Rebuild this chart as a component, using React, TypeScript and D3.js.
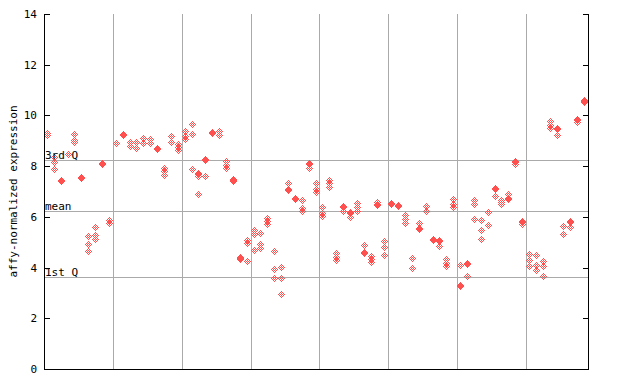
import React from "react";
import * as d3 from "d3";

// expression values per sample (replicates), 79 samples in 8 groups
const samples: number[][] = [
  [9.3, 9.2], [8.33, 8.15, 7.85], [7.45, 7.41], [8.44], [9.25, 9.0, 8.92],
  [7.56, 7.52], [5.22, 4.92, 4.65], [5.57, 5.25, 5.12], [8.1, 8.06], [5.85, 5.74],
  [8.89], [9.24, 9.2], [8.93, 8.77], [8.92, 8.7], [9.1, 8.9],
  [9.05, 8.9], [8.7, 8.66], [7.91, 7.78, 7.65], [9.16, 8.95], [8.87, 8.74, 8.6],
  [9.37, 9.16, 9.07], [9.65, 9.23, 7.87], [7.72, 7.68, 7.58, 6.89], [8.27, 8.23, 7.6], [9.33, 9.29],
  [9.35, 9.22], [8.17, 8.03, 7.9], [7.48, 7.44, 7.38], [4.41, 4.37, 4.3], [5.07, 4.93, 4.22],
  [5.45, 5.3, 4.69], [5.35, 4.9, 4.75], [5.95, 5.82, 5.68], [4.65, 3.94, 3.58], [4.02, 3.58, 2.95],
  [7.3, 7.07, 7.03], [6.72, 6.68], [6.65, 6.33, 6.2], [8.12, 8.08, 7.9], [7.3, 7.08, 6.95],
  [6.38, 6.14, 6.03], [7.45, 7.3, 7.17], [4.56, 4.4, 4.27], [6.42, 6.38, 6.2], [6.16, 6.12, 5.98],
  [6.53, 6.36, 6.2], [4.89, 4.6, 4.56], [4.43, 4.31, 4.19], [6.57, 6.47, 6.43], [5.02, 4.8, 4.48],
  [6.52, 6.48], [6.45, 6.41], [6.07, 5.9, 5.75], [4.37, 3.97], [5.75, 5.53, 5.49],
  [6.4, 6.2], [5.09, 5.05], [5.08, 5.04, 4.82], [4.3, 4.17, 4.03], [6.69, 6.5, 6.38],
  [4.09, 3.3, 3.26], [4.16, 4.12, 3.66], [6.64, 6.5, 5.9], [5.86, 5.48, 5.09], [6.18, 5.67],
  [7.12, 7.08, 6.8], [6.66, 6.55, 6.5], [6.9, 6.71, 6.67], [8.17, 8.13, 8.07], [5.8, 5.76, 5.68],
  [4.5, 4.28, 4.06], [4.46, 4.1, 3.89], [4.22, 4.04, 3.65], [9.75, 9.6, 9.48], [9.47, 9.43, 9.21],
  [5.61, 5.31], [5.83, 5.79, 5.6], [9.84, 9.8, 9.72], [10.6, 10.56, 10.5],
];

const groupBoundaries = [9.5, 19.5, 29.5, 39.5, 49.5, 59.5, 69.5];
const yTicks = [0, 2, 4, 6, 8, 10, 12, 14];
const statLabels = ["3rd Q", "mean", "1st Q"];
const statValues = [8.23, 6.22, 3.62];

const W = 640, H = 384;
const left = 44, right = 588, top = 14, bottom = 369;
const RED = "#ff5050";
const GRID = "#aaaaaa";
const FONT = "'DejaVu Sans Mono', monospace";

// checker-diamond pixel offsets
const diamondPixels: [number, number][] = [];
for (let dy = -3; dy <= 3; dy++) {
  for (let dx = -3; dx <= 3; dx++) {
    const s = Math.abs(dx) + Math.abs(dy);
    if (s === 1 || s === 3) diamondPixels.push([dx, dy]);
  }
}

export default function App() {
  const x = d3.scaleLinear().domain([-0.5, samples.length - 0.5]).range([left, right]);
  const y = d3.scaleLinear().domain([0, 14]).range([bottom, top]);

  let d = "";
  samples.forEach((vals, k) => {
    const cx = Math.round(x(k) - 0.5);
    vals.forEach((v) => {
      const cy = Math.round(y(v) - 0.5);
      for (const [dx, dy] of diamondPixels) {
        d += `M${cx + dx},${cy + dy}h1v1h-1z`;
      }
    });
  });

  return (
    <svg
      width={W}
      height={H}
      style={{ position: "absolute", left: 0, top: 0, background: "#fff" }}
      shapeRendering="crispEdges"
    >
      <rect x={0} y={0} width={W} height={H} fill="#fff" />
      {groupBoundaries.map((b) => {
        const gx = Math.round(x(b)) + 0.5;
        return <line key={b} x1={gx} x2={gx} y1={top} y2={bottom} stroke={GRID} strokeWidth={1} />;
      })}
      {statValues.map((v) => {
        const gy = Math.round(y(v)) + 0.5;
        return <line key={v} x1={left} x2={right} y1={gy} y2={gy} stroke={GRID} strokeWidth={1} />;
      })}
      <path d={d} fill={RED} />
      {statValues.map((v, i) => (
        <text key={statLabels[i]} x={left + 1} y={Math.round(y(v)) - 1.5} fontFamily={FONT} fontSize={11} fill="#000">
          {statLabels[i]}
        </text>
      ))}
      {/* axes */}
      <line x1={left + 0.5} x2={left + 0.5} y1={top} y2={bottom + 1} stroke="#000" />
      <line x1={right + 0.5} x2={right + 0.5} y1={top} y2={bottom + 1} stroke="#000" />
      <line x1={left} x2={right + 1} y1={bottom + 0.5} y2={bottom + 0.5} stroke="#000" />
      {yTicks.map((t) => {
        const ty = Math.round(y(t)) + 0.5;
        return (
          <g key={t}>
            <line x1={left} x2={left + 6} y1={ty} y2={ty} stroke="#000" />
            <line x1={right - 5} x2={right} y1={ty} y2={ty} stroke="#000" />
            <text x={37} y={ty} textAnchor="end" dominantBaseline="central" fontFamily={FONT} fontSize={11} fill="#000">
              {t}
            </text>
          </g>
        );
      })}
      <text
        transform={`translate(13,${(top + bottom) / 2}) rotate(-90)`}
        textAnchor="middle"
        dominantBaseline="central"
        fontFamily={FONT}
        fontSize={11}
        fill="#000"
      >
        affy-normalized expression
      </text>
    </svg>
  );
}
